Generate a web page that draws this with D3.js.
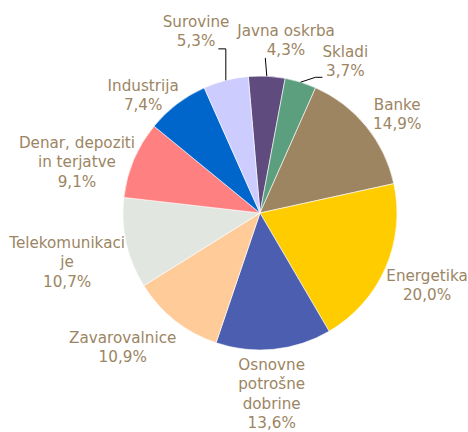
<!DOCTYPE html>
<html lang="sl">
<head>
    <meta charset="UTF-8">
    <script src="https://d3js.org/d3.v7.min.js"></script>
    <title>Sestava po panogah</title>
    <style>
        body {
            margin: 0;
            background: #fff;
        }
        svg {
            display: block;
        }
        .lbl {
            font-family: "DejaVu Sans", Verdana, sans-serif;
            font-size: 15.2px;
            fill: #9c8563;
        }
    </style>
</head>
<body>
    <svg width="468" height="432"></svg>
    <script>
        // data, clockwise from the slice at 12 o'clock
        const categories = ['Javna oskrba', 'Skladi', 'Banke', 'Energetika', 'Osnovne potrošne dobrine',
            'Zavarovalnice', 'Telekomunikacije', 'Denar, depoziti in terjatve', 'Industrija', 'Surovine'];
        const values = [4.3, 3.7, 14.9, 20.0, 13.6, 10.9, 10.7, 9.1, 7.4, 5.3];
        // label text as broken in the chart
        const labelLines = [
            ['Javna oskrba'], ['Skladi'], ['Banke'], ['Energetika'], ['Osnovne', 'potrošne', 'dobrine'],
            ['Zavarovalnice'], ['Telekomunikaci', 'je'], ['Denar, depoziti', 'in terjatve'], ['Industrija'], ['Surovine']
        ];
        const colors = ['#5f4b7d', '#5c9f7f', '#9e8562', '#ffcc00', '#4b5eb0',
            '#ffcc99', '#e1e6e1', '#ff8080', '#0066cc', '#ccccff'];

        // label placement: angle nudge (deg) from slice middle, distance from centre
        const labelNudge = [5.7, 12.1, 3.5, -0.3, 2.1, 7.3, -1.5, -7.4, -7.4, -4.9];
        const labelDist = [175, 174, 169, 182, 181, 192, 199, 190, 166, 193];
        const leader = ['up', 'elbowLeft', null, null, null, null, null, null, null, 'elbowRight'];

        const cx = 260, cy = 213, r = 137;
        const lineH = 19.3;
        const fmt = v => d3.format('.1f')(v).replace('.', ',') + '%';

        const svg = d3.select('svg');
        const g = svg.append('g').attr('transform', `translate(${cx},${cy})`);

        const start = -4.9 * Math.PI / 180;
        const pie = d3.pie()
            .sort(null)
            .value(d => d)
            .startAngle(start)
            .endAngle(start + 2 * Math.PI);

        const arc = d3.arc().innerRadius(0).outerRadius(r);
        const arcs = pie(values);

        g.selectAll('path.slice')
            .data(arcs)
            .enter().append('path')
            .attr('class', 'slice')
            .attr('d', arc)
            .attr('fill', (d, i) => colors[i])
            .attr('stroke', '#fff')
            .attr('stroke-width', 0.6);

        const labels = g.selectAll('text.lbl')
            .data(arcs)
            .enter().append('text')
            .attr('class', 'lbl')
            .attr('text-anchor', 'middle')
            .each(function (d, i) {
                const mid = (d.startAngle + d.endAngle) / 2 + labelNudge[i] * Math.PI / 180;
                const x = Math.sin(mid) * labelDist[i];
                const y = -Math.cos(mid) * labelDist[i];
                const lines = labelLines[i].concat([fmt(values[i])]);
                const top = y - (lines.length - 1) * lineH / 2;
                const t = d3.select(this);
                lines.forEach((s, k) => {
                    t.append('tspan')
                        .attr('x', x)
                        .attr('y', top + k * lineH)
                        .attr('dy', '0.35em')
                        .text(s);
                });
            });

        // leader lines for the small slices
        labels.each(function (d, i) {
            if (!leader[i]) return;
            const b = this.getBBox();
            const spans = this.querySelectorAll('tspan');
            const lb = spans[spans.length - 1].getBBox();
            const mid = (d.startAngle + d.endAngle) / 2;
            const p0 = [Math.sin(mid) * r, -Math.cos(mid) * r];
            let pts;
            if (leader[i] === 'up') {
                pts = [p0, [p0[0] - 1.5, b.y + b.height - 1]];
            } else if (leader[i] === 'elbowLeft') {
                const ay = b.y + b.height - 3;
                pts = [p0, [b.x - 7, ay], [b.x, ay]];
            } else {
                const ay = lb.y + lb.height - 1;
                const ax = lb.x + lb.width + 3;
                pts = [p0, [p0[0], ay], [ax, ay]];
            }
            g.append('path')
                .attr('d', d3.line()(pts))
                .attr('fill', 'none')
                .attr('stroke', '#000')
                .attr('stroke-width', 1);
        });
    </script>
</body>
</html>
